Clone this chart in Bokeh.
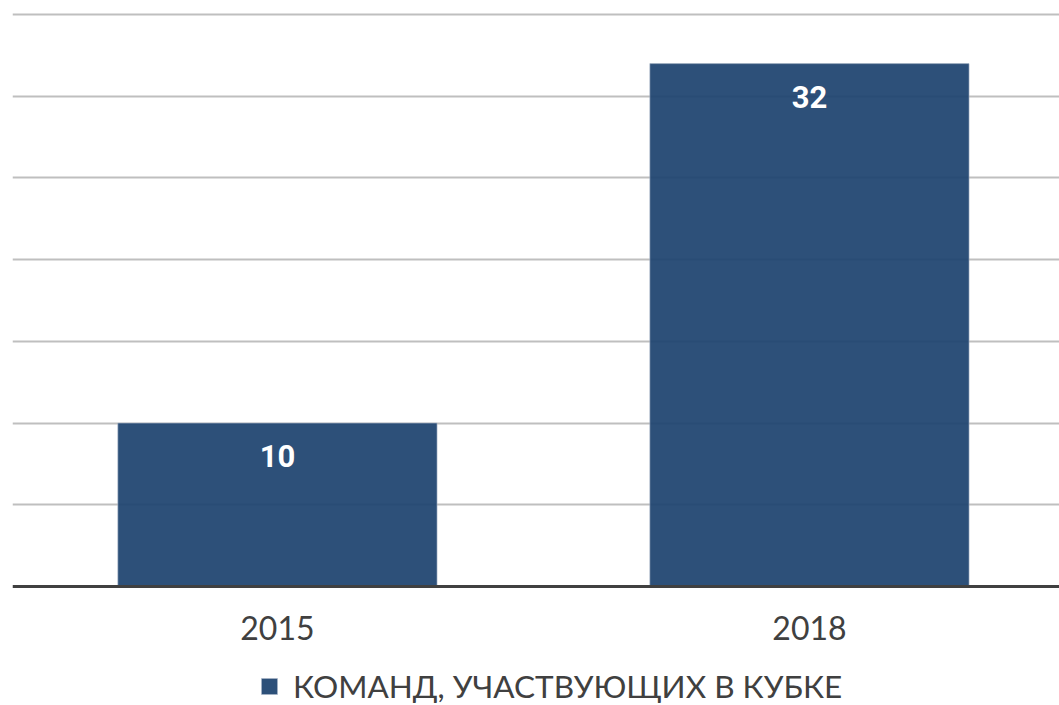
from bokeh.plotting import figure
from bokeh.models import Range1d, FixedTicker, Legend, LegendItem, ColumnDataSource
from bokeh.core.properties import value
from bokeh.embed import file_html
from bokeh.resources import INLINE

years = ["2015", "2018"]
teams = [10, 32]
series_name = "КОМАНД, УЧАСТВУЮЩИХ В КУБКЕ"
grid_values = [5, 10, 15, 20, 25, 30, 35]

xs = [i + 0.5 for i in range(len(years))]
src = ColumnDataSource(dict(x=xs, top=teams, label=[str(v) for v in teams]))

p = figure(frame_width=1047, frame_height=695, output_backend="svg", toolbar_location=None,
           x_range=Range1d(0.002, 1.97), y_range=Range1d(-7.28, 35.25),
           min_border_left=12, min_border_right=0, min_border_top=10, min_border_bottom=0)
p.outline_line_color = None

bars = p.vbar(x="x", top="top", width=0.6, bottom=0, source=src,
              fill_color="#1d436f", fill_alpha=0.93, line_color="#aab5c8", line_width=1, line_alpha=0.6)

p.text(x="x", y="top", text="label", source=src, y_offset=33,
       text_align="center", text_baseline="middle", text_color="white",
       text_font=value("Roboto"), text_font_style="bold", text_font_size="31px")

p.yaxis.visible = False
p.ygrid.ticker = FixedTicker(ticks=grid_values)
p.ygrid.grid_line_color = "#bfbfbf"
p.ygrid.grid_line_width = 2
p.xgrid.visible = False

p.xaxis.fixed_location = 0
p.xaxis.ticker = FixedTicker(ticks=xs)
p.xaxis.major_label_overrides = {x: y for x, y in zip(xs, years)}
p.xaxis.major_tick_line_color = None
p.xaxis.minor_tick_line_color = None
p.xaxis.axis_line_color = "#404040"
p.xaxis.axis_line_width = 3
p.xaxis.major_label_standoff = 23
p.xaxis.major_label_text_font = "Lato"
p.xaxis.major_label_text_font_size = "32px"
p.xaxis.major_label_text_color = "#404040"

legend = Legend(items=[LegendItem(label=series_name, renderers=[bars])],
                orientation="horizontal", location=(247, 0),
                label_text_font="Lato", label_text_font_size="31.5px", label_text_color="#404040",
                glyph_width=20, glyph_height=20, border_line_color=None, background_fill_alpha=0,
                padding=0, margin=0, label_standoff=14)
p.add_layout(legend, "center")

open("out.html", "w").write(file_html(p, INLINE))
